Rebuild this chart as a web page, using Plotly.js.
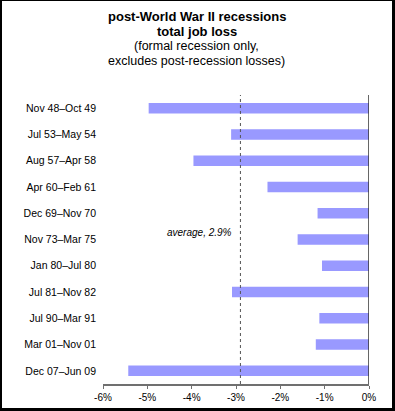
<!DOCTYPE html>
<html>
<head>
<meta charset="utf-8">
<script src="https://cdn.plot.ly/plotly-3.0.1.min.js"></script>
<style>
  html, body { margin: 0; padding: 0; background: #fff; }
  #wrap { position: relative; width: 395px; height: 411px; }
  #chart { width: 395px; height: 411px; }
  #frame { position: absolute; left: 0; top: 0; width: 395px; height: 411px; box-sizing: border-box;
           border-left: 2px solid #000; border-top: 1px solid #000; border-right: 3px solid #000; border-bottom: 3px solid #000;
           pointer-events: none; }
</style>
</head>
<body>
<div id="wrap"><div id="chart"></div><div id="frame"></div></div>
<script>
const categories = ["Nov 48–Oct 49","Jul 53–May 54","Aug 57–Apr 58","Apr 60–Feb 61","Dec 69–Nov 70","Nov 73–Mar 75","Jan 80–Jul 80","Jul 81–Nov 82","Jul 90–Mar 91","Mar 01–Nov 01","Dec 07–Jun 09"];
const jobLoss = [-4.97, -3.11, -3.96, -2.29, -1.16, -1.61, -1.06, -3.09, -1.12, -1.20, -5.43];
const averageLoss = -2.9;
const averageLabel = "average, 2.9%";
const tickVals = [-6, -5, -4, -3, -2, -1, 0];
const tickText = ["-6%", "-5%", "-4%", "-3%", "-2%", "-1%", "0%"];
const titleLines = ["<b>post-World War II recessions</b>", "<b>total job loss</b>", "(formal recession only,", "excludes post-recession losses)"];

const font = "Liberation Sans, Arial, Helvetica, sans-serif";
const plotTop = 95, plotBottom = 384, figH = 411;
function paperY(px) { return (plotBottom - px) / (plotBottom - plotTop); }
const titleY = [16.5, 31.5, 46.5, 61];
const titleSize = [13, 13, 12.5, 12.5];

const annotations = titleLines.map((t, i) => ({
  text: t, xref: "paper", yref: "paper", x: 0.353, y: paperY(titleY[i]),
  xanchor: "center", yanchor: "middle", showarrow: false,
  font: {family: font, size: titleSize[i], color: "#000"}
}));
annotations.push({
  text: "<i>" + averageLabel + "</i>", xref: "x", yref: "paper", x: averageLoss, y: paperY(232),
  xanchor: "right", yanchor: "middle", xshift: -6, showarrow: false,
  font: {family: font, size: 10, color: "#000"}
});

Plotly.newPlot("chart", [{
  type: "bar", orientation: "h", x: jobLoss, y: categories,
  marker: {color: "#9999ff", line: {width: 0}}, width: 0.4, hoverinfo: "none"
}], {
  width: 395, height: 411,
  margin: {l: 103, r: 26, t: plotTop, b: figH - plotBottom},
  paper_bgcolor: "#fff", plot_bgcolor: "#fff",
  showlegend: false,
  xaxis: {range: [-6, 0], tickvals: tickVals, ticktext: tickText, showgrid: false, zeroline: false,
          showline: true, linecolor: "#707070", linewidth: 2, ticks: "outside", ticklen: 3, tickcolor: "#707070",
          tickfont: {family: font, size: 10, color: "#000"}, fixedrange: true},
  yaxis: {type: "category", categoryarray: categories, range: [10.5, -0.5], showgrid: false, zeroline: false,
          showline: false, ticks: "", ticklabelstandoff: 6,
          tickfont: {family: font, size: 10.5, color: "#000"}, fixedrange: true},
  shapes: [
    {type: "line", xref: "x", yref: "paper", x0: averageLoss, x1: averageLoss, y0: 0, y1: 1,
     line: {color: "#555", width: 1, dash: "dot"}},
    {type: "line", xref: "x", yref: "paper", x0: 0, x1: 0, y0: 0, y1: 1,
     line: {color: "#333", width: 1.5}}
  ],
  annotations: annotations
}, {displayModeBar: false, staticPlot: true});
</script>
</body>
</html>
